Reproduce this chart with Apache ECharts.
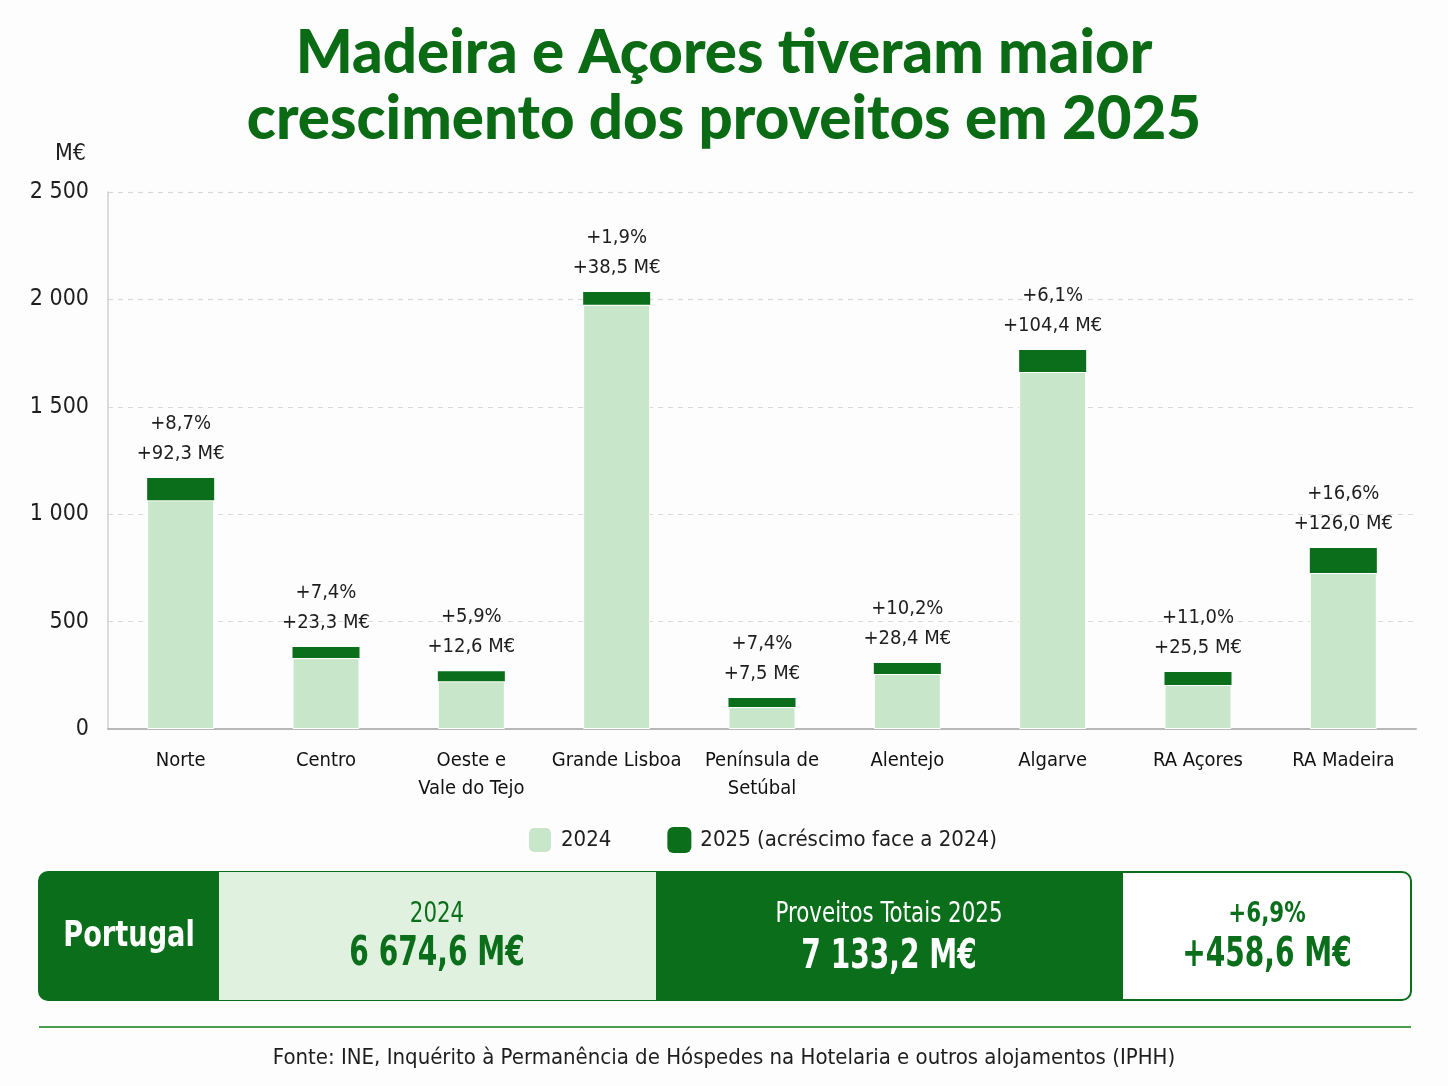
<!DOCTYPE html>
<html>
<head>
<meta charset="utf-8">
<script src="https://cdn.jsdelivr.net/npm/echarts@6/dist/echarts.min.js"></script>
<style>
  html, body { margin: 0; padding: 0; background: #fdfdfd; }
  #chart { width: 1448px; height: 1086px; }
</style>
</head>
<body>
<div id="chart"></div>
<script>
var regioes = ['Norte', 'Centro', 'Oeste e\nVale do Tejo', 'Grande Lisboa', 'Península de\nSetúbal', 'Alentejo', 'Algarve', 'RA Açores', 'RA Madeira'];
var proveitos2024 = [1065, 330, 222, 1975, 102, 256, 1662, 205, 726];
var acrescimo2025 = [103, 52, 47, 60, 42, 51, 102, 60, 117];
var taxaLabels = ['+8,7%', '+7,4%', '+5,9%', '+1,9%', '+7,4%', '+10,2%', '+6,1%', '+11,0%', '+16,6%'];
var valorLabels = ['+92,3 M€', '+23,3 M€', '+12,6 M€', '+38,5 M€', '+7,5 M€', '+28,4 M€', '+104,4 M€', '+25,5 M€', '+126,0 M€'];
var yTicks = [0, 500, 1000, 1500, 2000, 2500];

var FONT = "'Liberation Sans Narrow', 'DejaVu Sans Condensed', 'Roboto', sans-serif";
var TITLE_FONT = "'Lato', 'Open Sans', sans-serif";
var LIGHT = '#c8e6c9';
var DARK = '#0b6e1b';
var TXT = '#1e1e1e';

function milhares(v) {
    return String(v).replace(/\B(?=(\d{3})+(?!\d))/g, ' ');
}

// texto do painel inferior, ligeiramente comprimido na horizontal
function txt(x, y, s, fill, font, sx) {
    return { type: 'text', x: x, y: y, scaleX: sx || 1,
             style: { text: s, fill: fill, font: font, align: 'center', verticalAlign: 'middle' } };
}

var myChart = echarts.init(document.getElementById('chart'));
myChart.setOption({
    backgroundColor: '#fdfdfd',
    title: {
        text: 'Madeira e Açores tiveram maior\ncrescimento dos proveitos em 2025',
        left: 'center',
        top: 16,
        padding: [5, 0, 5, 18],
        textStyle: {
            fontFamily: TITLE_FONT,
            fontWeight: 900,
            fontSize: 60,
            lineHeight: 66,
            color: '#0a6b14'
        }
    },
    legend: {
        top: 821,
        left: 522,
        itemWidth: 24,
        itemHeight: 26,
        itemGap: 56,
        icon: 'roundRect',
        textStyle: { fontFamily: FONT, fontSize: 22, color: TXT, padding: [0, 0, 0, 4] },
        data: ['2024', '2025 (acréscimo face a 2024)']
    },
    grid: { left: 108, right: 32, top: 192, bottom: 357, containLabel: false },
    xAxis: {
        type: 'category',
        data: regioes,
        axisLine: { lineStyle: { color: '#b8b8b8', width: 2 } },
        axisTick: { show: false },
        axisLabel: {
            interval: 0,
            margin: 18,
            fontFamily: FONT,
            fontSize: 20,
            lineHeight: 28,
            color: '#111'
        }
    },
    yAxis: {
        type: 'value',
        min: 0,
        max: 2500,
        interval: 500,
        name: 'M€',
        nameLocation: 'end',
        nameGap: 26,
        nameTextStyle: { fontFamily: FONT, fontSize: 23, color: TXT, align: 'right', padding: [0, 22, 0, 0] },
        axisLine: { show: true, lineStyle: { color: '#cfcfcf', width: 1.5 } },
        axisTick: { show: false },
        axisLabel: {
            margin: 19,
            fontFamily: FONT,
            fontSize: 23,
            color: TXT,
            formatter: function (v) { return yTicks.indexOf(v) >= 0 ? milhares(v) : ''; }
        },
        splitLine: { lineStyle: { color: '#d8d8d8', type: [5, 5], width: 1.2 } }
    },
    series: [
        {
            name: '2024',
            type: 'bar',
            stack: 'total',
            barWidth: 67,
            data: proveitos2024,
            itemStyle: { color: LIGHT, borderColor: '#ffffff', borderWidth: 1 }
        },
        {
            name: '2025 (acréscimo face a 2024)',
            type: 'bar',
            stack: 'total',
            barWidth: 67,
            data: acrescimo2025,
            itemStyle: { color: DARK },
            label: {
                show: true,
                position: 'top',
                distance: 9,
                formatter: function (p) {
                    return taxaLabels[p.dataIndex] + '\n' + valorLabels[p.dataIndex];
                },
                fontFamily: FONT,
                fontSize: 20,
                lineHeight: 30,
                color: TXT
            }
        }
    ],
    graphic: [
        // caixa Portugal
        { type: 'rect', shape: { x: 39, y: 872, width: 1372, height: 128, r: 9 },
          style: { fill: '#ffffff', stroke: '#0b6e1b', lineWidth: 2 } },
        { type: 'rect', shape: { x: 39, y: 872, width: 180, height: 128, r: [9, 0, 0, 9] },
          style: { fill: DARK } },
        { type: 'rect', shape: { x: 219, y: 872, width: 437, height: 128 },
          style: { fill: '#e0f1e0' } },
        { type: 'rect', shape: { x: 656, y: 872, width: 467, height: 128 },
          style: { fill: DARK } },
        txt(129, 937, 'Portugal', '#fff', 'bold 36px ' + FONT, 0.84),
        txt(437, 915, '2024', DARK, '28px ' + FONT, 0.85),
        txt(437, 955, '6 674,6 M€', DARK, 'bold 40px ' + FONT, 0.78),
        txt(889, 915, 'Proveitos Totais 2025', '#fff', '28px ' + FONT, 0.85),
        txt(889, 958, '7 133,2 M€', '#fff', 'bold 40px ' + FONT, 0.78),
        txt(1267, 915, '+6,9%', DARK, 'bold 28px ' + FONT, 0.85),
        txt(1267, 956, '+458,6 M€', DARK, 'bold 40px ' + FONT, 0.78),
        // linha e fonte
        { type: 'rect', shape: { x: 39, y: 1026, width: 1372, height: 2 },
          style: { fill: '#4a9e50' } },
        txt(724, 1058, 'Fonte: INE, Inquérito à Permanência de Hóspedes na Hotelaria e outros alojamentos (IPHH)',
            TXT, '22px ' + FONT, 1)
    ]
});
</script>
</body>
</html>
